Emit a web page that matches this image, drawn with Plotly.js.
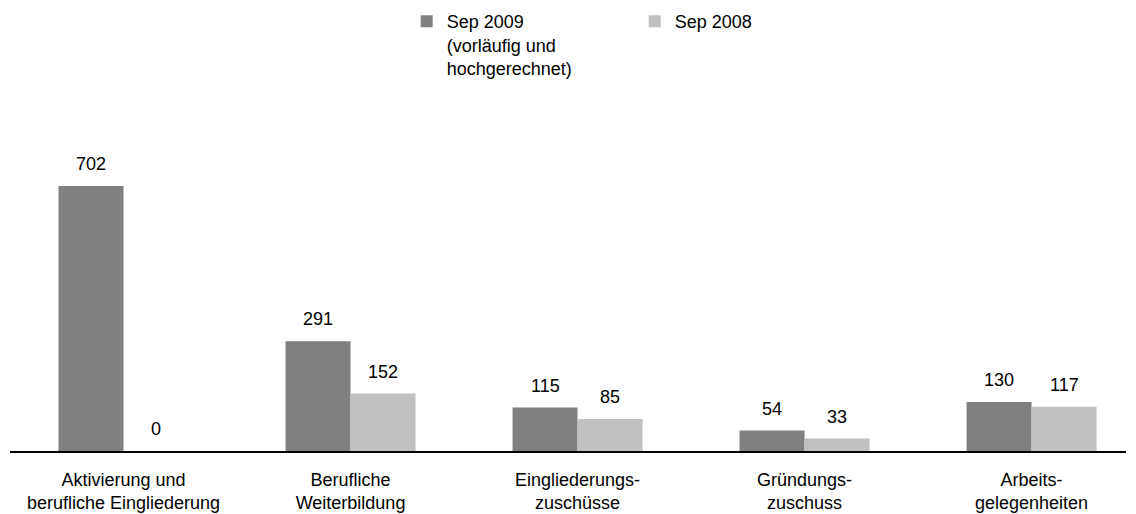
<!DOCTYPE html>
<html>
<head>
<meta charset="utf-8">
<script src="https://cdn.plot.ly/plotly-3.0.1.min.js"></script>
<style>html,body{margin:0;padding:0;background:#fff;}#chart{width:1136px;height:514px;}</style>
</head>
<body>
<div id="chart"></div>
<script>
const categories = [
  "Aktivierung und<br>berufliche Eingliederung",
  "Berufliche<br>Weiterbildung",
  "Eingliederungs-<br>zuschüsse",
  "Gründungs-<br>zuschuss",
  "Arbeits-<br>gelegenheiten"
];
const sep2009 = [702, 291, 115, 54, 130];
const sep2008 = [0, 152, 85, 33, 117];
const seriesNames = ["Sep 2009<br>(vorläufig und<br>hochgerechnet)", "Sep 2008"];

const FONT = "Liberation Sans, Arial, sans-serif";
const traces = [
  {type: "bar", name: seriesNames[0], x: categories.map((c, i) => i), y: sep2009,
   marker: {color: "#808080"}, hoverinfo: "y"},
  {type: "bar", name: seriesNames[1], x: categories.map((c, i) => i), y: sep2008,
   marker: {color: "#c0c0c0"}, hoverinfo: "y"}
];

const annotations = [];
[sep2009, sep2008].forEach((vals, s) => {
  vals.forEach((v, i) => {
    annotations.push({
      x: i, y: v, xref: "x", yref: "y", text: String(v), showarrow: false,
      xanchor: "center", yanchor: "bottom", xshift: s === 0 ? -32.5 : 32.5, yshift: 10,
      font: {family: FONT, size: 18, color: "#000"}
    });
  });
});

const layout = {
  width: 1136, height: 514,
  margin: {l: 10, r: 10, t: 100, b: 63},
  paper_bgcolor: "#fff", plot_bgcolor: "#fff",
  font: {family: FONT, size: 18, color: "#000"},
  barmode: "group", bargap: 0.4273, bargroupgap: 0,
  showlegend: true,
  legend: {orientation: "h", xref: "container", yref: "container", x: 0.358, y: 0.994,
           xanchor: "left", yanchor: "top", valign: "top",
           entrywidth: 183, entrywidthmode: "pixels",
           font: {family: FONT, size: 18, color: "#000"}, traceorder: "normal"},
  xaxis: {type: "linear", range: [-0.5, 4.416], tickmode: "array",
          tickvals: categories.map((c, i) => i), ticktext: categories,
          showgrid: false, zeroline: false, showline: true, linecolor: "#000", linewidth: 2,
          ticks: "", ticklabelstandoff: 11, tickfont: {family: FONT, size: 18, color: "#000"}, fixedrange: true},
  yaxis: {range: [0, 929.8], visible: false, showgrid: false, zeroline: false, fixedrange: true},
  annotations: annotations
};

Plotly.newPlot("chart", traces, layout, {displayModeBar: false, staticPlot: true});
</script>
</body>
</html>
